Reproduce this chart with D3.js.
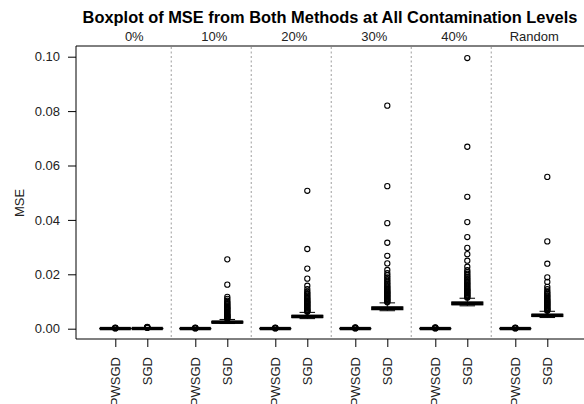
<!DOCTYPE html>
<html>
<head>
<meta charset="utf-8">
<script src="https://cdn.jsdelivr.net/npm/d3@7"></script>
<style>
  body { margin: 0; background: #fff; }
  svg text { font-family: "Liberation Sans", Arial, sans-serif; }
</style>
</head>
<body>
<div id="chart"></div>
<script>
let w_full = 584
let h_full = 404

// contamination levels and methods
const levels = ['0%', '10%', '20%', '30%', '40%', 'Random']
const methods = ['PWSGD', 'SGD']

// [lower whisker, Q1, median, Q3, upper whisker] per level
const pwsgdStats = [
    [0, 0.00002, 0.00005, 0.00008, 0.00015],
    [0, 0.00002, 0.00005, 0.00008, 0.00015],
    [0, 0.00002, 0.00005, 0.00008, 0.00015],
    [0, 0.00002, 0.00005, 0.00008, 0.00015],
    [0, 0.00002, 0.00005, 0.00008, 0.00015],
    [0, 0.00002, 0.00005, 0.00008, 0.00015]
]
const sgdStats = [
    [0, 0.00003, 0.00007, 0.00011, 0.0002],
    [0.0019, 0.0021, 0.0024, 0.0027, 0.0034],
    [0.0037, 0.0041, 0.0045, 0.0049, 0.0060],
    [0.0066, 0.0070, 0.0075, 0.0080, 0.0095],
    [0.0084, 0.0088, 0.0093, 0.0098, 0.0112],
    [0.0041, 0.0045, 0.0049, 0.0053, 0.0064]
]

// outliers
const pwsgdOut = [
    [0.0001, 0.0002, 0.0003, 0.0004],
    [0.0001, 0.0002, 0.0003, 0.0004],
    [0.0001, 0.0002, 0.0003, 0.0004],
    [0.0001, 0.0002, 0.0003, 0.0004, 0.0005],
    [0.0001, 0.0002, 0.0003, 0.0004, 0.0005],
    [0.0001, 0.0002, 0.0003, 0.0004]
]
const sgdOut = [
    [0.0003, 0.0004, 0.0005, 0.0006, 0.0007],
    [0.0036, 0.0038, 0.0040, 0.0042, 0.0044, 0.0046, 0.0048, 0.0050, 0.0052, 0.0055, 0.0058,
     0.0061, 0.0064, 0.0067, 0.0070, 0.0073, 0.0076, 0.0079, 0.0082, 0.0086, 0.0090, 0.0094,
     0.0098, 0.0103, 0.0110, 0.0117, 0.0162, 0.0255],
    [0.0062, 0.0064, 0.0066, 0.0068, 0.0071, 0.0074, 0.0077, 0.0080, 0.0083, 0.0086, 0.0089,
     0.0092, 0.0095, 0.0098, 0.0101, 0.0104, 0.0108, 0.0112, 0.0116, 0.0121, 0.0126, 0.0131,
     0.0136, 0.0145, 0.0158, 0.0184, 0.0221, 0.0293, 0.0507],
    [0.0097, 0.0100, 0.0103, 0.0106, 0.0109, 0.0112, 0.0115, 0.0118, 0.0121, 0.0124, 0.0127,
     0.0130, 0.0133, 0.0136, 0.0139, 0.0143, 0.0147, 0.0151, 0.0155, 0.0160, 0.0165, 0.0170,
     0.0176, 0.0182, 0.0189, 0.0196, 0.0204, 0.0216, 0.0240, 0.0268, 0.0316, 0.0388, 0.0524, 0.0820],
    [0.0114, 0.0117, 0.0120, 0.0123, 0.0126, 0.0129, 0.0132, 0.0135, 0.0138, 0.0141, 0.0144,
     0.0147, 0.0151, 0.0155, 0.0159, 0.0163, 0.0167, 0.0171, 0.0175, 0.0180, 0.0185, 0.0190,
     0.0196, 0.0202, 0.0208, 0.0215, 0.0228, 0.0250, 0.0274, 0.0297, 0.0337, 0.0392, 0.0485,
     0.0669, 0.0995],
    [0.0066, 0.0068, 0.0070, 0.0073, 0.0076, 0.0079, 0.0082, 0.0085, 0.0088, 0.0091, 0.0094,
     0.0097, 0.0100, 0.0103, 0.0106, 0.0110, 0.0114, 0.0118, 0.0122, 0.0127, 0.0132, 0.0137,
     0.0145, 0.0154, 0.0172, 0.0189, 0.0239, 0.0321, 0.0558]
]

const yTicks = [0, 0.02, 0.04, 0.06, 0.08, 0.10]

const title = 'Boxplot of MSE from Both Methods at All Contamination Levels'

let margin = {top: 46, left: 76, bottom: 339}

const svg = d3.select('#chart')
    .append('svg')
    .attr('width', w_full)
    .attr('height', h_full)

// box positions: two per level, a gap of half a box between levels
function pos(li, mi) { return 1 + li * 2.5 + mi }

const x = d3.scaleLinear()
    .domain([1, 14.5])
    .range([115.3, 547.3])

const y = d3.scaleLinear()
    .domain([0, 0.10])
    .range([328.7, 56.7])

const unit = x(2) - x(1)
const boxW = unit * 0.97

// frame: left axis line, top and bottom lines
svg.append('line')
    .attr('x1', margin.left).attr('x2', margin.left)
    .attr('y1', margin.top).attr('y2', margin.bottom)
    .attr('stroke', '#000').attr('stroke-width', 1)
svg.append('line')
    .attr('x1', margin.left).attr('x2', w_full)
    .attr('y1', margin.top).attr('y2', margin.top)
    .attr('stroke', '#000').attr('stroke-width', 1)
svg.append('line')
    .attr('x1', margin.left).attr('x2', w_full)
    .attr('y1', margin.bottom).attr('y2', margin.bottom)
    .attr('stroke', '#000').attr('stroke-width', 1)

// Y axis
const yAxis = svg.append('g')
    .attr('transform', `translate(${margin.left},0)`)
    .call(d3.axisLeft(y).tickValues(yTicks).tickFormat(d3.format('.2f')).tickSize(8).tickPadding(8))
yAxis.select('.domain').remove()
yAxis.selectAll('text').attr('font-size', 13).attr('fill', '#222')

svg.append('text')
    .text('MSE')
    .attr('transform', 'translate(24,203) rotate(-90)')
    .attr('text-anchor', 'middle')
    .attr('font-size', 13)
    .attr('fill', '#222')

// X axis (bottom), labels rotated
const ticksData = []
levels.forEach((l, li) => methods.forEach((m, mi) => ticksData.push({p: pos(li, mi), name: m})))

const xAxis = svg.append('g')
    .attr('transform', `translate(0,${margin.bottom})`)
    .call(d3.axisBottom(x).tickValues(ticksData.map(d => d.p)).tickFormat((d, i) => ticksData[i].name).tickSize(8))
xAxis.select('.domain').remove()
xAxis.selectAll('text')
    .attr('font-size', 13)
    .attr('fill', '#222')
    .attr('text-anchor', 'end')
    .attr('transform', 'rotate(-90)')
    .attr('x', -18)
    .attr('y', 0)
    .attr('dy', '0.35em')

// separators between levels
svg.selectAll('.sep')
    .data(levels.slice(1))
    .join('line')
    .attr('class', 'sep')
    .attr('x1', (d, i) => x(pos(i, 1) + 0.75))
    .attr('x2', (d, i) => x(pos(i, 1) + 0.75))
    .attr('y1', margin.top + 1)
    .attr('y2', margin.bottom)
    .attr('stroke', '#b4b4b4')
    .attr('stroke-width', 1.3)
    .attr('stroke-dasharray', '2,2.5')

// level labels on top
svg.selectAll('.lvl')
    .data(levels)
    .join('text')
    .attr('class', 'lvl')
    .attr('x', (d, i) => x(pos(i, 0) + 0.5) + 3)
    .attr('y', 41)
    .attr('text-anchor', 'middle')
    .attr('font-size', 13)
    .attr('fill', '#222')
    .text(d => d)

svg.append('text')
    .text(title)
    .attr('x', 330)
    .attr('y', 23)
    .attr('text-anchor', 'middle')
    .attr('font-size', 16.4)
    .attr('font-weight', 'bold')
    .attr('fill', '#000')

// boxes
const boxes = []
levels.forEach((l, li) => {
    boxes.push({p: pos(li, 0), s: pwsgdStats[li], out: pwsgdOut[li]})
    boxes.push({p: pos(li, 1), s: sgdStats[li], out: sgdOut[li]})
})

const bg = svg.selectAll('.box')
    .data(boxes)
    .join('g')
    .attr('class', 'box')

// whiskers
bg.append('line')
    .attr('x1', d => x(d.p)).attr('x2', d => x(d.p))
    .attr('y1', d => y(d.s[0])).attr('y2', d => y(d.s[1]))
    .attr('stroke', '#000').attr('stroke-dasharray', '3,2')
bg.append('line')
    .attr('x1', d => x(d.p)).attr('x2', d => x(d.p))
    .attr('y1', d => y(d.s[3])).attr('y2', d => y(d.s[4]))
    .attr('stroke', '#000').attr('stroke-dasharray', '3,2')
// staples
bg.selectAll('.staple')
    .data(d => [d, d].map((e, k) => ({p: e.p, v: k ? e.s[4] : e.s[0]})))
    .join('line')
    .attr('class', 'staple')
    .attr('x1', d => x(d.p) - boxW / 4).attr('x2', d => x(d.p) + boxW / 4)
    .attr('y1', d => y(d.v)).attr('y2', d => y(d.v))
    .attr('stroke', '#000')

bg.append('rect')
    .attr('x', d => x(d.p) - boxW / 2)
    .attr('width', boxW)
    .attr('y', d => y(d.s[3]))
    .attr('height', d => y(d.s[1]) - y(d.s[3]))
    .attr('fill', '#fff')
    .attr('stroke', '#000')
    .attr('stroke-width', 1.2)

bg.append('line')
    .attr('x1', d => x(d.p) - boxW / 2).attr('x2', d => x(d.p) + boxW / 2)
    .attr('y1', d => y(d.s[2])).attr('y2', d => y(d.s[2]))
    .attr('stroke', '#000').attr('stroke-width', 3.4)

// outliers
bg.selectAll('circle')
    .data(d => d.out.map(v => ({p: d.p, v: v})))
    .join('circle')
    .attr('cx', d => x(d.p))
    .attr('cy', d => y(d.v))
    .attr('r', 2.6)
    .attr('fill', 'none')
    .attr('stroke', '#000')
    .attr('stroke-width', 1.1)
</script>
</body>
</html>
